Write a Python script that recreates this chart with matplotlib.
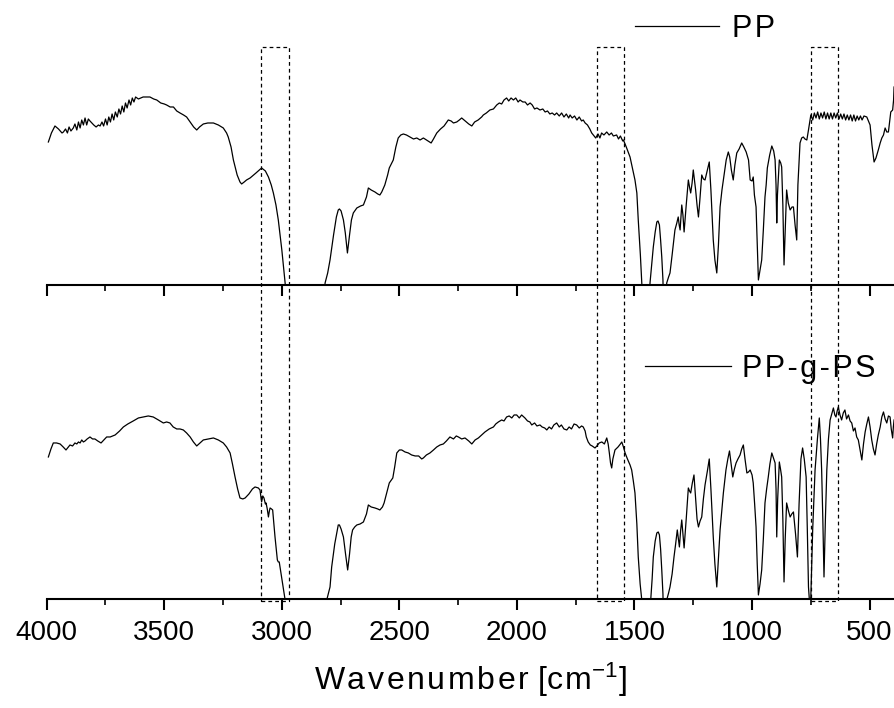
import matplotlib
matplotlib.use('Agg')
import matplotlib.pyplot as plt
import matplotlib.transforms as mtransforms
from matplotlib.patches import Rectangle
from matplotlib.ticker import MultipleLocator

plt.rcParams['font.family'] = ['Liberation Sans', 'DejaVu Sans']
plt.rcParams['mathtext.fontset'] = 'custom'
plt.rcParams['mathtext.rm'] = 'Liberation Sans'
plt.rcParams['mathtext.it'] = 'Liberation Sans'

# FTIR transmittance, arbitrary units (height above panel baseline)
pp_wn = [3993, 3980, 3965, 3950, 3935, 3929, 3920, 3912, 3905, 3897, 3887, 3880, 3872, 3865,
         3858, 3851, 3844, 3837, 3830, 3823, 3816, 3808, 3800, 3790, 3780, 3773, 3765, 3758,
         3750, 3743, 3736, 3729, 3722, 3715, 3708, 3700, 3693, 3686, 3679, 3672, 3665, 3658,
         3650, 3643, 3636, 3629, 3622, 3610, 3600, 3590, 3575, 3561, 3545, 3532, 3515, 3500,
         3490, 3475, 3461, 3447, 3433, 3418, 3405, 3390, 3375, 3362, 3350, 3334, 3315, 3291,
         3270, 3249, 3235, 3228, 3216, 3206, 3190, 3178, 3171, 3160, 3150, 3135, 3110, 3086,
         3070, 3057, 3045, 3036, 3025, 3015, 3000, 2986, 2975, 2830, 2816, 2805, 2795, 2780,
         2768, 2760, 2755, 2748, 2738, 2730, 2721, 2712, 2704, 2696, 2681, 2665, 2653, 2640,
         2632, 2620, 2604, 2592, 2583, 2575, 2562, 2550, 2543, 2526, 2515, 2505, 2494, 2483,
         2470, 2455, 2440, 2426, 2412, 2398, 2385, 2365, 2355, 2341, 2325, 2310, 2292, 2280,
         2270, 2256, 2245, 2235, 2220, 2205, 2192, 2180, 2165, 2150, 2143, 2130, 2115, 2100,
         2086, 2075, 2065, 2055, 2044, 2035, 2025, 2015, 2005, 1995, 1987, 1975, 1965, 1955,
         1944, 1935, 1925, 1915, 1902, 1890, 1880, 1870, 1860, 1850, 1840, 1831, 1820, 1810,
         1800, 1790, 1780, 1774, 1765, 1755, 1745, 1735, 1725, 1718, 1710, 1700, 1690, 1682,
         1675, 1665, 1655, 1647, 1640, 1630, 1618, 1608, 1598, 1590, 1576, 1568, 1560, 1550,
         1547, 1535, 1519, 1510, 1498, 1490, 1484, 1475, 1469, 1460, 1440, 1434, 1427, 1420,
         1412, 1405, 1400, 1394, 1389, 1384, 1379, 1375, 1365, 1363, 1355, 1349, 1340, 1328,
         1320, 1314, 1310, 1306, 1302, 1299, 1294, 1289, 1280, 1271, 1266, 1261, 1255, 1250,
         1240, 1234, 1228, 1222, 1214, 1207, 1200, 1190, 1182, 1175, 1170, 1165, 1158, 1150,
         1143, 1136, 1128, 1122, 1110, 1101, 1095, 1088, 1080, 1073, 1065, 1055, 1044, 1035,
         1025, 1015, 1008, 1000, 995, 990, 983, 978, 973, 966, 959, 952, 945, 940, 935, 925,
         916, 908, 902, 898, 895, 892, 884, 878, 874, 869, 864, 858, 853, 846, 838, 830, 824,
         817, 810, 805, 796, 789, 782, 775, 767, 760, 750, 742, 735, 728, 721, 714, 707, 700,
         693, 686, 679, 672, 665, 658, 651, 644, 637, 630, 623, 616, 609, 602, 595, 588, 581,
         574, 567, 560, 553, 546, 539, 532, 524, 512, 498, 490, 481, 473, 463, 455, 448, 441,
         434, 427, 420, 414, 410, 402, 398, 396]
pp_t = [143, 152, 159, 156, 152, 153, 156, 152, 158, 154, 157, 161, 155, 163,
        157, 165, 160, 167, 160, 166, 164, 162, 160, 158, 160, 159, 163, 159,
        166, 160, 168, 163, 171, 165, 173, 168, 176, 171, 179, 173, 182, 177,
        185, 180, 187, 183, 188, 186, 187, 188, 188, 188, 186, 185, 182, 181,
        180, 178, 178, 174, 172, 170, 168, 163, 158, 155, 158, 161, 162, 162,
        160, 157, 152, 148, 138, 125, 110, 103, 101, 103, 105, 107, 112, 117,
        114, 108, 100, 92, 80, 65, 35, 2, -40, -40, 2, 12, 25, 50,
        68, 75, 76, 74, 65, 52, 32, 50, 65, 72, 77, 79, 80, 88,
        97, 95, 93, 91, 90, 93, 100, 110, 117, 125, 138, 147, 150, 151,
        150, 148, 146, 147, 145, 147, 145, 142, 146, 152, 156, 159, 165, 164,
        162, 163, 165, 167, 164, 161, 159, 163, 165, 168, 170, 172, 175, 176,
        180, 182, 181, 185, 187, 184, 187, 185, 187, 183, 185, 183, 183, 180,
        182, 180, 176, 177, 175, 176, 173, 174, 171, 172, 170, 172, 169, 172,
        168, 171, 167, 170, 167, 169, 165, 168, 164, 165, 162, 160, 156, 152,
        150, 147, 151, 147, 152, 150, 153, 150, 152, 149, 150, 146, 149, 144,
        145, 138, 128, 118, 105, 92, 65, 30, 2, -40, -40, 2, 20, 38,
        53, 63, 64, 60, 45, 28, 5, -40, -40, 2, 8, 12, 30, 55,
        62, 68, 60, 55, 70, 80, 70, 53, 80, 105, 98, 92, 102, 115,
        95, 80, 68, 85, 110, 106, 105, 115, 123, 95, 70, 45, 25, 12,
        40, 78, 95, 105, 125, 133, 128, 115, 105, 120, 132, 136, 142, 138,
        133, 125, 105, 104, 108, 90, 78, 40, 5, 15, 25, 55, 88, 100, 117, 130,
        139, 134, 125, 100, 62, 90, 125, 122, 118, 80, 20, 60, 95, 82, 75, 78, 78,
        60, 45, 100, 142, 147, 148, 146, 145, 155, 170, 165, 172, 167, 173, 166, 172, 167,
        173, 166, 172, 166, 172, 166, 172, 167, 172, 166, 171, 166, 171, 165, 170, 165, 170,
        164, 170, 164, 169, 165, 169, 165, 169, 168, 160, 140, 123, 127, 135, 142, 147, 150,
        157, 153, 153, 165, 173, 175, 185, 198]

ppgps_wn = [3993, 3982, 3972, 3958, 3943, 3930, 3918, 3908, 3901, 3890, 3880, 3872, 3865, 3858,
            3851, 3844, 3837, 3828, 3816, 3805, 3795, 3783, 3769, 3757, 3745, 3730, 3720, 3709,
            3690, 3674, 3655, 3632, 3610, 3589, 3568, 3547, 3525, 3504, 3490, 3476, 3462, 3447,
            3433, 3419, 3405, 3390, 3376, 3362, 3348, 3334, 3312, 3291, 3270, 3249, 3235, 3220,
            3210, 3199, 3188, 3178, 3166, 3156, 3140, 3125, 3114, 3100, 3093, 3086, 3081, 3076,
            3070, 3067, 3062, 3057, 3053, 3050, 3044, 3039, 3034, 3029, 3024, 3019, 3015, 3011,
            3000, 2986, 2975, 2820, 2809, 2795, 2788, 2775, 2760, 2755, 2748, 2738, 2729, 2720,
            2712, 2705, 2699, 2690, 2681, 2667, 2653, 2640, 2632, 2620, 2604, 2592, 2583, 2572,
            2565, 2552, 2543, 2528, 2520, 2511, 2500, 2490, 2476, 2462, 2448, 2433, 2418, 2405,
            2398, 2385, 2370, 2355, 2341, 2327, 2313, 2300, 2285, 2270, 2258, 2249, 2235, 2221,
            2205, 2192, 2178, 2164, 2150, 2136, 2118, 2100, 2090, 2079, 2065, 2055, 2044, 2033,
            2022, 2012, 2001, 1990, 1980, 1966, 1955, 1945, 1937, 1925, 1915, 1902, 1893, 1882,
            1873, 1863, 1853, 1843, 1831, 1820, 1811, 1800, 1788, 1778, 1768, 1757, 1746, 1735,
            1725, 1718, 1710, 1705, 1697, 1688, 1680, 1668, 1660, 1650, 1639, 1628, 1618, 1612,
            1607, 1602, 1597, 1592, 1583, 1570, 1560, 1554, 1547, 1540, 1530, 1519, 1512, 1505,
            1498, 1490, 1484, 1476, 1469, 1460, 1440, 1431, 1425, 1420, 1412, 1405, 1399, 1394,
            1389, 1384, 1379, 1375, 1365, 1363, 1355, 1349, 1340, 1332, 1325, 1318, 1313, 1309,
            1304, 1299, 1294, 1289, 1280, 1271, 1266, 1261, 1254, 1247, 1240, 1234, 1228, 1221,
            1214, 1207, 1200, 1190, 1182, 1175, 1170, 1165, 1158, 1150, 1143, 1136, 1128, 1122,
            1111, 1103, 1096, 1089, 1082, 1075, 1068, 1060, 1051, 1044, 1037, 1030, 1022, 1015,
            1008, 1000, 995, 989, 983, 978, 973, 966, 959, 952, 945, 938, 931, 924, 916, 909,
            902, 898, 895, 891, 884, 879, 874, 869, 864, 859, 853, 845, 838, 831, 824, 815, 807,
            800, 792, 785, 778, 770, 765, 760, 755, 750, 742, 732, 722, 714, 709, 704, 699, 694,
            688, 682, 675, 668, 661, 654, 648, 643, 638, 633, 626, 619, 612, 605, 598, 590, 583,
            576, 569, 562, 555, 548, 540, 533, 526, 519, 512, 505, 498, 491, 484, 477, 470, 463,
            455, 448, 441, 434, 427, 420, 413, 408, 402, 399, 396]
ppgps_t = [142, 150, 156, 156, 155, 152, 149, 152, 154, 153, 156, 155, 157, 156,
           159, 157, 158, 160, 162, 160, 160, 158, 156, 159, 162, 162, 163, 164,
           168, 172, 175, 178, 181, 182, 183, 182, 179, 176, 177, 176, 172, 170,
           170, 169, 166, 162, 157, 153, 156, 159, 160, 161, 159, 156, 152, 146,
           135, 122, 110, 101, 100, 101, 105, 110, 112, 111, 109, 97, 103, 101,
           95, 96, 90, 82, 88, 91, 90, 89, 75, 62, 50, 39, 37, 37,
           20, -1, -40, -40, -1, 12, 32, 55, 74, 74, 70, 62, 45, 29,
           45, 62, 69, 72, 74, 75, 77, 85, 94, 92, 91, 90, 89, 92,
           96, 108, 116, 121, 132, 146, 149, 149, 147, 146, 144, 143, 143, 140,
           141, 144, 146, 149, 152, 154, 155, 158, 162, 160, 163, 162, 160, 161,
           158, 155, 159, 161, 164, 167, 170, 172, 175, 177, 179, 178, 182, 183,
           181, 184, 184, 181, 184, 181, 178, 177, 174, 176, 173, 174, 172, 171,
           169, 172, 170, 174, 176, 172, 174, 170, 169, 172, 170, 175, 174, 171,
           173, 172, 168, 162, 157, 154, 153, 151, 153, 156, 157, 155, 161, 155,
           146, 136, 131, 140, 149, 152, 155, 157, 152, 146, 140, 134, 129, 118,
           106, 75, 42, 15, -1, -40, -40, -1, 20, 42, 58, 66, 67, 64,
           50, 29, 5, -40, -40, -1, 6, 12, 25, 42, 55, 69, 60, 52,
           68, 79, 65, 51, 80, 111, 108, 106, 116, 124, 100, 80, 72, 78,
           82, 100, 114, 128, 140, 110, 85, 62, 35, 12, 40, 69, 90, 106,
           129, 140, 148, 135, 122, 130, 136, 140, 144, 150, 154, 140, 126, 127,
           129, 124, 116, 95, 72, 35, 4, 15, 29, 60, 96, 110, 122, 135, 146, 141,
           136, 110, 62, 100, 137, 130, 122, 80, 17, 60, 96, 88, 82, 85, 87, 65, 42,
           95, 140, 151, 140, 122, 70, 12, -5, 2, 70, 129, 160, 181, 160, 129, 80, 22,
           80, 129, 160, 179, 185, 191, 184, 182, 188, 192, 184, 179, 186, 189, 180, 184, 178,
           176, 168, 171, 162, 159, 148, 139, 155, 167, 175, 182, 172, 159, 150, 144, 155, 164,
           172, 182, 187, 180, 176, 183, 182, 170, 161, 172, 179]

# dashed marker boxes (wavenumber ranges)
box_left = [3089, 1661, 749]
box_right = [2969, 1544, 633]

fig = plt.figure(figsize=(8.95, 7.08), dpi=100)
ax_top = fig.add_axes([0.0522, 0.5975, 0.9478, 0.4025])
ax_bot = fig.add_axes([0.0522, 0.1540, 0.9478, 0.4435])

ax_top.plot(pp_wn, pp_t, color='black', lw=0.9)
ax_bot.plot(ppgps_wn, ppgps_t, color='black', lw=0.9)
ax_top.set_ylim(0, 285)
ax_bot.set_ylim(0, 314)

for ax in (ax_top, ax_bot):
    ax.set_xlim(4000, 392)
    for s in ('top', 'left', 'right'):
        ax.spines[s].set_visible(False)
    ax.spines['bottom'].set_linewidth(1.5)
    ax.set_yticks([])
    ax.xaxis.set_major_locator(MultipleLocator(500))
    ax.xaxis.set_minor_locator(MultipleLocator(250))
    ax.tick_params(axis='x', which='major', direction='out', length=8, width=1.5,
                   labelsize=20, pad=7)
    ax.tick_params(axis='x', which='minor', direction='out', length=4.5, width=1.2)
    ax.patch.set_visible(False)

ax_top.tick_params(axis='x', labelbottom=False)
ax_bot.set_xlabel('W\u200aa\u200av\u200ae\u200an\u200au\u200am\u200ab\u200ae\u200ar [c\u200am$^{-1}$]',
                  fontsize=23, labelpad=11)

# legend-style labels
hs = '\u200a'
ax_top.plot([0.6935, 0.7925], [0.909, 0.909], color='black', lw=0.9,
            transform=ax_top.transAxes, clip_on=False)
ax_top.text(0.8078, 0.870, hs.join('PP'), transform=ax_top.transAxes, fontsize=22,
            va='baseline', ha='left')
ax_bot.plot([0.7053, 0.8067], [0.742, 0.742], color='black', lw=0.9,
            transform=ax_bot.transAxes, clip_on=False)
ax_bot.text(0.8197, 0.707, hs.join('PP-g-PS'), transform=ax_bot.transAxes, fontsize=22,
            va='baseline', ha='left')

# dashed rectangles spanning both panels
trans = mtransforms.blended_transform_factory(ax_top.transData, fig.transFigure)
for left, right in zip(box_left, box_right):
    rect = Rectangle((left, 0.1511), right - left, 0.9336 - 0.1511, transform=trans,
                     fill=False, edgecolor='black', lw=0.9, linestyle=(0, (3, 2.5)),
                     clip_on=False)
    fig.add_artist(rect)

fig.savefig('out.png', dpi=100)
